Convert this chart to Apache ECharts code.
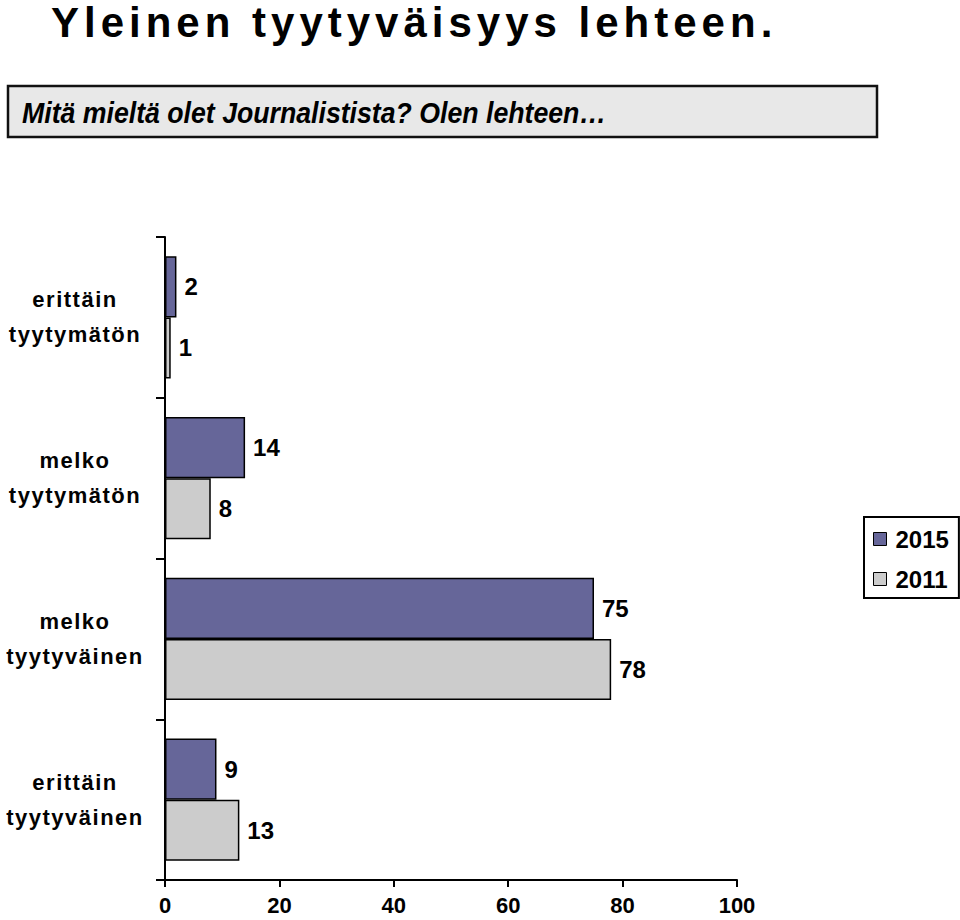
<!DOCTYPE html>
<html>
<head>
<meta charset="utf-8">
<script src="https://cdn.jsdelivr.net/npm/echarts@6/dist/echarts.min.js"></script>
<style>
  html, body { margin: 0; padding: 0; background: #fff; }
  #main { width: 960px; height: 920px; }
  /* ECharts has no letter-spacing option, so it is set on the svg text by colour */
  #main text[fill="#010101"] { letter-spacing: 5px; }
  #main text[fill="#020202"] { letter-spacing: 1.5px; }
</style>
</head>
<body>
<div id="main"></div>
<script>
const categories = ['erittäin\ntyytymätön', 'melko\ntyytymätön', 'melko\ntyytyväinen', 'erittäin\ntyytyväinen'];
const years = ['2015', '2011'];
const values2015 = [2, 14, 75, 9];
const values2011 = [1, 8, 78, 13];
const xTicks = [0, 20, 40, 60, 80, 100];

const sans = '"Liberation Sans", Arial, sans-serif';

const chartDom = document.getElementById('main');
const myChart = echarts.init(chartDom, null, { renderer: 'svg' });

const labelStyle = {
  show: true,
  position: 'right',
  distance: 8,
  color: '#000',
  fontFamily: sans,
  fontWeight: 'bold',
  fontSize: 24
};

const option = {
  animation: false,
  backgroundColor: '#fff',
  title: {
    text: 'Yleinen tyytyväisyys lehteen.',
    left: 46,
    top: -4,
    textStyle: {
      color: '#010101',
      fontFamily: sans,
      fontWeight: 'bold',
      fontSize: 42
    }
  },
  graphic: [
    {
      type: 'rect',
      shape: { x: 8, y: 86, width: 869, height: 51 },
      style: { fill: '#e8e8e8', stroke: '#111', lineWidth: 2.5 }
    },
    {
      type: 'text',
      x: 22,
      y: 112,
      scaleX: 0.89,
      style: {
        text: 'Mitä mieltä olet Journalistista? Olen lehteen…',
        fill: '#000',
        font: 'italic bold 30px ' + sans,
        verticalAlign: 'middle'
      }
    }
  ],
  legend: {
    data: years,
    orient: 'vertical',
    left: 864,
    top: 517,
    padding: [10, 10, 7, 9],
    itemGap: 16,
    itemWidth: 13,
    itemHeight: 13,
    borderColor: '#000',
    borderWidth: 2,
    icon: 'rect',
    itemStyle: { borderColor: '#000', borderWidth: 1 },
    textStyle: { color: '#000', fontFamily: sans, fontWeight: 'bold', fontSize: 24, padding: [0, 0, 0, 4] }
  },
  grid: {
    left: 165,
    right: 223,
    top: 237,
    bottom: 40,
    containLabel: false
  },
  xAxis: {
    type: 'value',
    min: xTicks[0],
    max: xTicks[xTicks.length - 1],
    interval: 20,
    splitLine: { show: false },
    axisLine: { show: true, lineStyle: { color: '#000', width: 2 } },
    axisTick: { show: true, length: 7, lineStyle: { color: '#000', width: 2 } },
    axisLabel: { color: '#000', fontFamily: sans, fontWeight: 'bold', fontSize: 22, margin: 14 }
  },
  yAxis: {
    type: 'category',
    data: categories,
    inverse: true,
    axisLine: { show: true, lineStyle: { color: '#000', width: 2 } },
    axisTick: { show: true, length: 9, lineStyle: { color: '#000', width: 2 } },
    axisLabel: {
      color: '#020202',
      fontFamily: sans,
      fontWeight: 'bold',
      fontSize: 22,
      lineHeight: 35,
      align: 'center',
      margin: 90
    }
  },
  series: [
    {
      name: years[0],
      type: 'bar',
      data: values2015,
      barCategoryGap: '24%',
      barGap: '0%',
      itemStyle: { color: '#666699', borderColor: '#000', borderWidth: 1.5 },
      label: labelStyle
    },
    {
      name: years[1],
      type: 'bar',
      data: values2011,
      barCategoryGap: '24%',
      barGap: '0%',
      itemStyle: { color: '#cccccc', borderColor: '#000', borderWidth: 1.5 },
      label: labelStyle
    }
  ]
};

myChart.setOption(option);
</script>
</body>
</html>
